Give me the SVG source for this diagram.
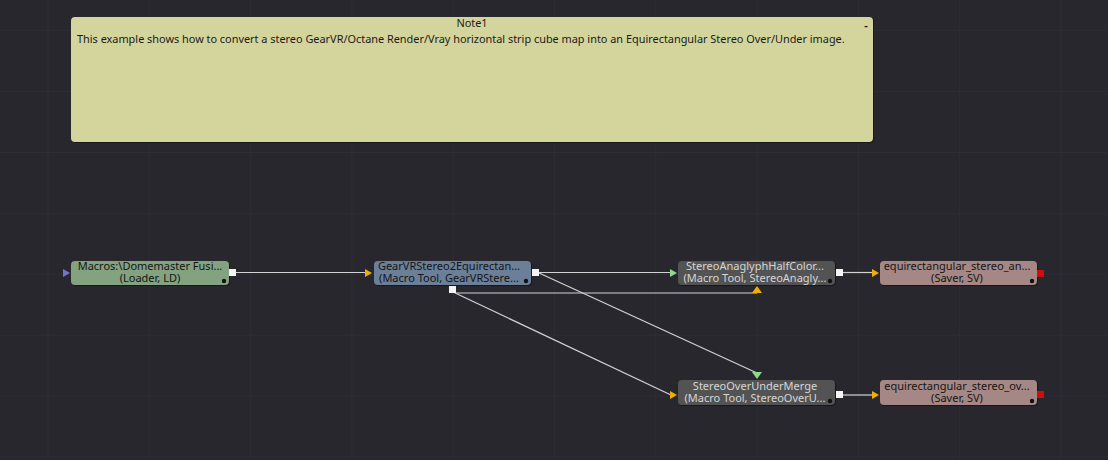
<svg xmlns="http://www.w3.org/2000/svg" xmlns:xlink="http://www.w3.org/1999/xlink" width="1108" height="460" viewBox="0 0 1108 460">
<style>
.grid line{stroke:#2e2d34;stroke-width:1}
.t{font-family:"Noto Sans","Open Sans","DejaVu Sans",sans-serif;font-size:11px;text-anchor:middle}
.dk{fill:#141414}
.lt{fill:#d6d6d6}
.conn path{fill:none;stroke:#d2d2d2;stroke-width:1.2}
.out{fill:#f4f4f4}
.red{fill:#d00d0d}
.dot{fill:#111}
.note{font-family:"Noto Sans","Open Sans","DejaVu Sans",sans-serif;font-size:10.9px;fill:#1a1a1a}
</style>
<defs>
<path id="tR" d="M0,-4 L7,0 L0,4 Z"/>
<path id="tU" d="M-5,3 L0,-4 L5,3 Z"/>
<path id="tD" d="M-5,-3 L0,4 L5,-3 Z"/>
<rect id="sq" x="0" y="0" width="7" height="7"/>
</defs>
<rect width="1108" height="460" fill="#28272e"/>
<g class="grid">
<line x1="48" y1="0" x2="48" y2="460"/><line x1="149.3" y1="0" x2="149.3" y2="460"/><line x1="250.6" y1="0" x2="250.6" y2="460"/><line x1="351.9" y1="0" x2="351.9" y2="460"/><line x1="453.2" y1="0" x2="453.2" y2="460"/><line x1="554.5" y1="0" x2="554.5" y2="460"/><line x1="655.8" y1="0" x2="655.8" y2="460"/><line x1="757.1" y1="0" x2="757.1" y2="460"/><line x1="858.4" y1="0" x2="858.4" y2="460"/><line x1="959.7" y1="0" x2="959.7" y2="460"/><line x1="1061" y1="0" x2="1061" y2="460"/>
<line x1="0" y1="30.7" x2="1108" y2="30.7"/><line x1="0" y1="91.6" x2="1108" y2="91.6"/><line x1="0" y1="152.5" x2="1108" y2="152.5"/><line x1="0" y1="213.4" x2="1108" y2="213.4"/><line x1="0" y1="274.3" x2="1108" y2="274.3"/><line x1="0" y1="335.2" x2="1108" y2="335.2"/><line x1="0" y1="396.1" x2="1108" y2="396.1"/><line x1="0" y1="457" x2="1108" y2="457"/>
</g>
<g id="note1">
<rect x="72" y="18" width="802" height="125" rx="4" fill="#151418" opacity="0.8"/>
<rect x="71" y="17" width="802" height="125" rx="4" fill="#d4d59c"/>
<text x="472" y="27" class="note" text-anchor="middle">Note1</text>
<text x="866" y="29" class="note" text-anchor="middle" font-weight="bold">-</text>
<text x="77" y="43" class="note">This example shows how to convert a stereo GearVR/Octane Render/Vray horizontal strip cube map into an Equirectangular Stereo Over/Under image.</text>
</g>
<g class="conn">
<path d="M236,272.5 H365"/>
<path d="M539,272.5 H671"/>
<path d="M539,273 L757,373"/>
<path d="M456,293 H757"/>
<path d="M453,292 L671,395"/>
<path d="M843,272.5 H873"/>
<path d="M843,395 H873"/>
</g>
<g id="loader">
<rect x="72" y="262" width="158" height="24" rx="4" fill="#111" opacity="0.7"/>
<rect x="71" y="261" width="158" height="24" rx="4" fill="#83a27f"/>
<text x="150" y="270" class="t dk">Macros:\Domemaster Fusi...</text>
<text x="150" y="282" class="t dk">(Loader, LD)</text>
<circle cx="224" cy="281" r="2.2" class="dot"/>
<use xlink:href="#tR" x="63" y="273" fill="#7474c8"/>
<use xlink:href="#sq" x="229" y="269" class="out"/>
</g>
<g id="gearvr">
<rect x="375" y="262" width="157" height="24" rx="4" fill="#111" opacity="0.7"/>
<rect x="374" y="261" width="157" height="24" rx="4" fill="#6c7f98"/>
<text x="449" y="270" class="t dk">GearVRStereo2Equirectan...</text>
<text x="449" y="282" class="t dk">(Macro Tool, GearVRStere...</text>
<circle cx="526" cy="281" r="2.2" class="dot"/>
<use xlink:href="#tR" x="365" y="273" fill="#f0b000"/>
<use xlink:href="#sq" x="532" y="269" class="out"/>
<use xlink:href="#sq" x="449" y="286" class="out"/>
</g>
<g id="anaglyph">
<rect x="679" y="262" width="157" height="24" rx="4" fill="#111" opacity="0.7"/>
<rect x="678" y="261" width="157" height="24" rx="4" fill="#535353"/>
<text x="755" y="270" class="t lt">StereoAnaglyphHalfColor...</text>
<text x="755" y="282" class="t lt">(Macro Tool, StereoAnagly...</text>
<circle cx="830" cy="281" r="2.2" class="dot"/>
<use xlink:href="#tR" x="670" y="273" fill="#8fd88f"/>
<use xlink:href="#tU" x="757" y="290" fill="#f0b000"/>
<use xlink:href="#sq" x="836" y="269" class="out"/>
</g>
<g id="saver1">
<rect x="881" y="262" width="157" height="24" rx="4" fill="#111" opacity="0.7"/>
<rect x="880" y="261" width="157" height="24" rx="4" fill="#a58886"/>
<text x="957" y="270" class="t dk">equirectangular_stereo_an...</text>
<text x="957" y="282" class="t dk">(Saver, SV)</text>
<circle cx="1032" cy="281" r="2.2" class="dot"/>
<use xlink:href="#tR" x="872" y="273" fill="#f0b000"/>
<use xlink:href="#sq" x="1037" y="270" class="red"/>
</g>
<g id="overunder">
<rect x="679" y="381" width="157" height="25" rx="4" fill="#111" opacity="0.7"/>
<rect x="678" y="380" width="157" height="25" rx="4" fill="#535353"/>
<text x="755" y="390" class="t lt">StereoOverUnderMerge</text>
<text x="755" y="402" class="t lt">(Macro Tool, StereoOverU...</text>
<circle cx="830" cy="401" r="2.2" class="dot"/>
<use xlink:href="#tR" x="670" y="395" fill="#f0b000"/>
<use xlink:href="#tD" x="757" y="375" fill="#8fd88f"/>
<use xlink:href="#sq" x="836" y="391" class="out"/>
</g>
<g id="saver2">
<rect x="881" y="381" width="157" height="25" rx="4" fill="#111" opacity="0.7"/>
<rect x="880" y="380" width="157" height="25" rx="4" fill="#a58886"/>
<text x="957" y="390" class="t dk">equirectangular_stereo_ov...</text>
<text x="957" y="402" class="t dk">(Saver, SV)</text>
<circle cx="1032" cy="401" r="2.2" class="dot"/>
<use xlink:href="#tR" x="872" y="395" fill="#f0b000"/>
<use xlink:href="#sq" x="1037" y="391" class="red"/>
</g>
</svg>
